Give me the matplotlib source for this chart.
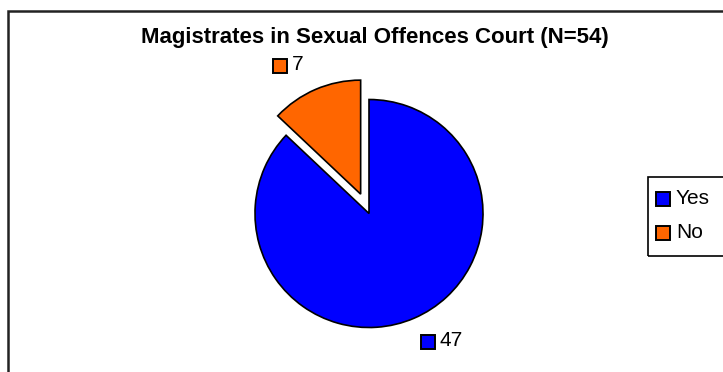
import matplotlib
matplotlib.use("Agg")
import matplotlib.pyplot as plt
from matplotlib.patches import Rectangle

plt.rcParams['font.family'] = ['Liberation Sans', 'DejaVu Sans']

title = "Magistrates in Sexual Offences Court (N=54)"
categories = ["Yes", "No"]
values = [47, 7]
colors = ["#0000FF", "#FF6600"]
explode_frac = [0.0, 0.185]

W, H = 723, 372
fig = plt.figure(figsize=(W / 100, H / 100), dpi=100)
ax = fig.add_axes([0, 0, 1, 1])

cx, cy, r = 369, H - 213.5, 114
wedges, _ = ax.pie(values, colors=colors, explode=[e * r for e in explode_frac],
                   startangle=90, counterclock=False, center=(cx, cy), radius=r,
                   wedgeprops=dict(edgecolor="black", linewidth=1.2), frame=True)
ax.set_xlim(0, W)
ax.set_ylim(0, H)
ax.set_aspect('equal')
ax.axis('off')

# outer chart frame (right/bottom edges cut off)
ax.add_patch(Rectangle((8, -10), W + 20, H - 11 + 10, fill=False,
                       edgecolor="#222222", linewidth=1.8, zorder=0))

ax.text(375, H - 37, title, ha="center", va="center", fontsize=16,
        fontweight="bold")

# data labels with legend keys
label_pos = [(428, H - 342), (280, H - 66)]
ms = 14
for (x, y), v, c in zip(label_pos, values, colors):
    ax.add_patch(Rectangle((x - ms / 2, y - ms / 2), ms, ms, facecolor=c,
                           edgecolor="black", linewidth=1.4, zorder=5))
    ax.text(x + ms / 2 + 5, y + 1, str(v), ha="left", va="center", fontsize=15)

# legend box
ax.add_patch(Rectangle((648, H - 256), 100, 79, fill=False, edgecolor="black",
                       linewidth=1.2, zorder=4))
leg_y = [H - 199, H - 233]
for y, cat, c in zip(leg_y, categories, colors):
    ax.add_patch(Rectangle((656, y - ms / 2), ms, ms, facecolor=c,
                           edgecolor="black", linewidth=1.4, zorder=5))
    ax.text(676, y + 1, cat, ha="left", va="center", fontsize=15)

fig.savefig("out.png", dpi=100)
